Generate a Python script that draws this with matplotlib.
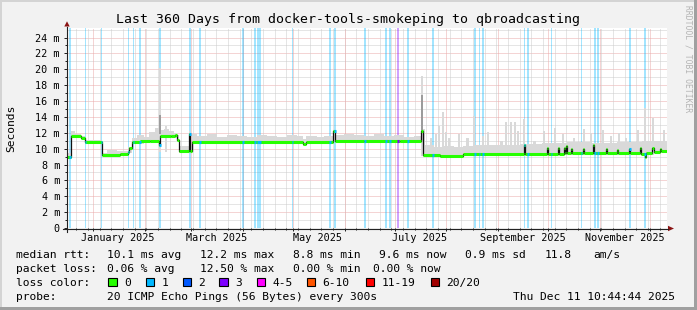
import numpy as np
import matplotlib
matplotlib.use('Agg')
import matplotlib.pyplot as plt
from matplotlib.transforms import Affine2D, blended_transform_factory
from matplotlib.patches import Rectangle, Polygon
from matplotlib.lines import Line2D
from datetime import datetime, timedelta

# ---------------- data ----------------
END = datetime(2025, 12, 11, 10, 44, 44)
SPAN_DAYS = 360
START = END - timedelta(days=SPAN_DAYS)

# median rtt (ms), step segments: start day offset -> value
med_day = [0.0, 2.4, 8.4, 10.5, 21.0, 31.8, 36.3, 37.2, 39.0, 43.8, 50.0, 54.9, 55.8, 62.4,
           64.8, 66.0, 67.2, 72.9, 73.5, 75.0, 141.6, 143.4, 159.6, 160.8, 178.0, 200.0,
           212.4, 213.3, 223.8, 237.6, 274.2, 275.0, 287.8, 288.6, 294.6, 295.4, 298.2,
           299.0, 299.4, 300.2, 302.2, 303.0, 309.4, 310.2, 315.6, 316.4, 323.4, 324.2,
           330.0, 330.8, 337.2, 338.0, 343.8, 344.6, 346.6, 347.6, 351.2, 352.0, 355.8, 356.6]
med_val = [8.9, 11.55, 11.4, 10.8, 9.25, 9.3, 9.6, 10.1, 10.8, 10.9, 11.0, 10.5, 11.65, 11.55,
           11.7, 11.1, 9.7, 11.9, 9.7, 10.8, 10.55, 10.85, 12.2, 11.0, 10.95, 10.9,
           12.2, 9.25, 9.05, 9.3, 10.4, 9.35, 10.1, 9.35, 10.1, 9.35, 10.1,
           9.4, 10.3, 9.4, 9.9, 9.4, 9.9, 9.4, 10.4, 9.4, 9.9, 9.4,
           9.8, 9.4, 10.0, 9.4, 10.1, 9.35, 9.0, 9.4, 10.1, 9.6, 9.9, 9.65]

# smoke band (ms), step segments
smoke_day = [0.0, 2.4, 4.8, 8.4, 10.5, 21.0, 24.0, 30.0, 36.3, 39.0, 42.0, 46.0, 49.0, 52.5,
             54.9, 55.8, 58.0, 61.0, 64.0, 66.0, 67.2, 72.9, 73.5, 75.0, 78.0, 84.0, 90.0,
             96.0, 102.0, 108.0, 114.0, 120.0, 126.0, 132.0, 138.0, 141.6, 143.4, 150.0,
             154.0, 159.6, 160.8, 166.0, 172.0, 178.0, 184.0, 190.0, 196.0, 202.0, 208.0,
             212.4, 213.3, 214.5, 220.0, 226.0, 232.0, 237.6, 245.0, 255.0, 265.0, 272.0,
             285.0, 300.0, 315.0, 330.0, 345.0, 352.0]
smoke_lo = [8.7, 11.3, 11.35, 11.2, 10.6, 9.1, 9.1, 9.15, 9.4, 10.6, 10.6, 10.7, 10.8, 10.8,
            10.3, 11.4, 11.4, 11.3, 11.4, 10.9, 9.5, 9.6, 9.5, 10.6, 10.6, 10.6, 10.65,
            10.6, 10.65, 10.6, 10.6, 10.65, 10.6, 10.6, 10.6, 10.35, 10.65, 10.65,
            10.7, 10.9, 10.8, 10.8, 10.75, 10.75, 10.75, 10.7, 10.7, 10.7, 10.7,
            9.1, 9.0, 9.0, 8.9, 8.85, 8.85, 9.1, 9.1, 9.1, 9.1, 9.1,
            9.15, 9.2, 9.2, 9.2, 9.15, 9.4]
smoke_hi = [9.5, 12.2, 11.9, 11.6, 11.1, 9.5, 9.8, 9.7, 10.2, 11.3, 11.7, 11.5, 12.1, 12.6,
            12.0, 12.3, 12.5, 12.2, 12.0, 11.7, 10.3, 12.2, 10.3, 11.9, 11.6, 11.8, 11.5,
            11.7, 11.6, 11.5, 11.75, 11.6, 11.5, 11.7, 11.55, 11.2, 11.6, 11.5,
            11.6, 12.4, 11.7, 11.9, 11.7, 11.6, 11.8, 11.6, 11.75, 11.5, 11.6,
            19.1, 12.5, 10.4, 10.2, 10.3, 10.2, 10.3, 10.5, 10.4, 10.5, 10.6,
            10.7, 10.8, 10.7, 10.8, 10.9, 10.9]

# narrow smoke spikes (max ping)
spike_day = [55.3, 58.5, 217.8, 220.8, 222.4, 224.8, 226.8, 228.6, 234.4, 239.4, 243.6, 249.0,
             252.0, 259.8, 262.8, 265.8, 268.2, 270.0, 273.6, 279.6, 285.6, 292.2, 297.0,
             303.6, 309.6, 313.8, 321.0, 325.8, 330.6, 334.8, 342.0, 346.2, 351.0, 357.6]
spike_top = [20.1, 12.8, 11.3, 11.9, 12.8, 14.6, 12.1, 11.3, 11.9, 11.3, 14.1, 11.6,
             12.1, 11.0, 13.4, 13.3, 13.3, 12.2, 13.7, 11.0, 12.2, 12.6, 11.8,
             11.4, 12.5, 12.0, 12.3, 11.6, 12.0, 11.3, 12.3, 15.1, 13.9, 12.4]
spike_w = [0.8, 1.5, 1.2, 1.2, 1.2, 1.2, 1.2, 1.2, 1.5, 1.5, 1.2, 1.2,
           1.2, 1.5, 1.2, 1.2, 1.2, 1.2, 1.2, 1.5, 1.2, 1.2, 1.2,
           1.2, 1.2, 1.2, 1.2, 1.2, 1.2, 1.2, 1.2, 1.2, 1.2, 1.2]

# darker smoke parts
dark_day = [55.3, 212.4]
dark_w = [0.8, 1.0]
dark_lo = [11.8, 12.0]
dark_hi = [14.2, 16.8]

# packet loss events (full-height bars): start day, width, loss count
loss_day = [1.2, 10.5, 20.1, 36.3, 39.3, 43.4, 55.4, 73.4, 79.4, 105.2, 112.4, 114.0, 135.0,
            157.4, 160.2, 178.4, 190.6, 193.4, 198.0, 204.2, 219.2, 244.4, 247.0, 248.8,
            274.2, 275.8, 290.4, 308.4, 316.4, 318.2, 337.4, 346.2]
loss_w = [1.2, 1.1, 0.9, 0.9, 0.9, 0.9, 1.0, 0.9, 1.0, 0.9, 1.0, 2.4, 0.8,
          1.0, 1.4, 0.9, 1.4, 0.9, 1.4, 0.9, 0.9, 1.0, 0.8, 1.2,
          0.8, 1.2, 0.6, 0.6, 1.0, 0.9, 1.0, 1.2]
loss_n = [1] * 18 + [3] + [1] * 13

loss_labels = ['0', '1', '2', '3', '4-5', '6-10', '11-19', '20/20']
loss_colors = ['#26ff00', '#00b8ff', '#0059ff', '#7e00ff', '#ff00ff', '#ff5500', '#ff0000', '#a10000']

y_ticks = list(range(0, 25, 2))
y_ticklabels = ['0'] + [f'{v} m' for v in y_ticks[1:]]
month_labels = ['January 2025', 'March 2025', 'May 2025', 'July 2025',
                'September 2025', 'November 2025']

# ---------------- figure ----------------
W, H = 697, 310
MONO = 'DejaVu Sans Mono'
fig = plt.figure(figsize=(W / 100, H / 100), dpi=100)
fig.patch.set_facecolor('#f2f2f2')
PX = Affine2D().scale(1, -1).translate(0, H) + Affine2D().scale(1 / W, 1 / H) + fig.transFigure

ax = fig.add_axes([67 / W, (H - 228) / H, 600 / W, 200 / H])
ax.set_facecolor('white')
ax.set_xlim(0, SPAN_DAYS)
ax.set_ylim(0, 25.2)
for s in ax.spines.values():
    s.set_visible(False)

def doff(d):
    return (d - START).total_seconds() / 86400.0

months = []
m = datetime(2025, 1, 1)
while m < END:
    months.append(doff(m))
    m = datetime(m.year + (m.month // 12), m.month % 12 + 1, 1)
sundays = []
s = datetime(2024, 12, 22)
while s < END:
    sundays.append(doff(s))
    s += timedelta(days=7)

grid_c = '#cdcdcd'
mgrid_c = '#ebaaaa'
dots = (0, (1, 1))
for v in range(1, 26):
    ax.axhline(v, color=(mgrid_c if v % 2 == 0 else grid_c), lw=0.72, ls=dots, zorder=1)
for d in sundays:
    ax.axvline(d, color=grid_c, lw=0.72, ls=dots, zorder=1)
for d in months:
    ax.axvline(d, color=mgrid_c, lw=0.72, ls=dots, zorder=1)

# loss bars
for d, w, n in zip(loss_day, loss_w, loss_n):
    c = loss_colors[1] if n == 1 else loss_colors[3]
    ax.axvspan(d, d + w, color=c, alpha=0.36, lw=0, zorder=2)

# smoke
smoke_c = '#d9d9d9'
sx = np.append(smoke_day, SPAN_DAYS)
ax.fill_between(sx, np.append(smoke_lo, smoke_lo[-1]), np.append(smoke_hi, smoke_hi[-1]),
                step='post', color=smoke_c, lw=0, zorder=3)
ax.bar(spike_day, np.array(spike_top) - 9.6, bottom=9.6, width=spike_w, align='edge',
       color=smoke_c, lw=0, zorder=3)
ax.bar(dark_day, np.array(dark_hi) - np.array(dark_lo), bottom=dark_lo, width=dark_w,
       align='edge', color='#9c9c9c', lw=0, zorder=4)

# median
mx = np.append(med_day, SPAN_DAYS)
ax.step(mx, np.append(med_val, med_val[-1]), where='post', color='#111111', lw=0.9, zorder=5)
ax.hlines(med_val, mx[:-1], mx[1:], color=loss_colors[0], lw=2.2, zorder=6, capstyle='butt')
for d, w, n in zip(loss_day, loss_w, loss_n):
    i = np.searchsorted(med_day, d, side='right') - 1
    c = loss_colors[1] if n == 1 else loss_colors[3]
    ax.hlines(med_val[i], d, d + w, color=c, lw=2.2, zorder=7, capstyle='butt')

# ticks
ax.set_yticks(y_ticks)
ax.set_yticklabels(y_ticklabels, fontfamily=MONO, fontsize=7.3)
ax.set_yticks(range(1, 25, 2), minor=True)
ax.set_xticks(months)
ax.set_xticks(sundays, minor=True)
ax.tick_params(axis='x', which='both', labelbottom=False)
ax.tick_params(which='major', direction='out', length=2.2, width=0.72, color='#222222', pad=2.9)
ax.tick_params(which='minor', direction='out', length=1.4, width=0.72, color='#222222')

btr = blended_transform_factory(ax.transData, ax.transAxes)
for lab, d in zip(month_labels, months[0::2]):
    ax.text(d + 15, -0.0635, lab, transform=btr, ha='center', va='baseline',
            fontfamily=MONO, fontsize=7.3, color='black')

# axes lines & arrows
fig.add_artist(Line2D([63, 668], [228.5, 228.5], transform=PX, color='#222222', lw=0.8))
fig.add_artist(Line2D([67, 67], [232, 27], transform=PX, color='#222222', lw=0.8))
fig.add_artist(Polygon([(64.3, 26.5), (69.7, 26.5), (67, 21.3)], closed=True, transform=PX,
                       color='#8b1414', lw=0))
fig.add_artist(Polygon([(668, 225.8), (668, 231.2), (674, 228.5)], closed=True, transform=PX,
                       color='#8b1414', lw=0))

# border shading
fig.add_artist(Rectangle((0, 0), W, 2, transform=PX, color='#d4d4d4', lw=0))
fig.add_artist(Rectangle((0, 0), 2, H, transform=PX, color='#d4d4d4', lw=0))
fig.add_artist(Rectangle((694, 0), 3, H, transform=PX, color='#a0a0a0', lw=0))
fig.add_artist(Rectangle((0, 307), W, 3, transform=PX, color='#a0a0a0', lw=0))

# texts
def t(x, y, s, size=8.1, **kw):
    fig.text(x, y, s, transform=PX, fontfamily=MONO, fontsize=size, va='baseline',
             color=kw.pop('color', 'black'), **kw)

t(348.5, 23.3, 'Last 360 Days from docker-tools-smokeping to qbroadcasting', size=9.5, ha='center')
fig.text(11, 128, 'Seconds', transform=PX, fontfamily=MONO, fontsize=8.1, rotation=90,
         ha='center', va='center')
fig.text(688, 5, 'RRDTOOL / TOBI OETIKER', transform=PX, fontfamily=MONO, fontsize=5.8,
         rotation=270, ha='center', va='top', color='#b4b4b4')

y1, y2, y3, y4 = 258.3, 272.0, 286.0, 299.7
t(16, y1, 'median rtt:')
t(107, y1, '10.1 ms avg')
t(200, y1, '12.2 ms max')
t(293, y1, '8.8 ms min')
t(379, y1, '9.6 ms now')
t(465, y1, '0.9 ms sd')
t(545, y1, '11.8')
t(593, y1, 'am/s')

t(16, y2, 'packet loss:')
t(107, y2, '0.06 % avg')
t(200, y2, '12.50 % max')
t(293, y2, '0.00 % min')
t(372.7, y2, '0.00 % now')

t(16, y3, 'loss color:')
box_x = [108.3, 145.7, 182.7, 219.3, 256.7, 306.7, 365.7, 430.7]
for bx, lab, c in zip(box_x, loss_labels, loss_colors):
    fig.add_artist(Rectangle((bx, 277.8), 8.2, 8.2, transform=PX, facecolor=c,
                             edgecolor='black', lw=0.8))
    t(bx + 15.5, y3, lab)

t(16, y4, 'probe:')
t(107, y4, '20 ICMP Echo Pings (56 Bytes) every 300s')
t(513, y4, END.strftime('%a %b %d %H:%M:%S %Y'))

fig.savefig('out.png', dpi=100, facecolor=fig.get_facecolor())
